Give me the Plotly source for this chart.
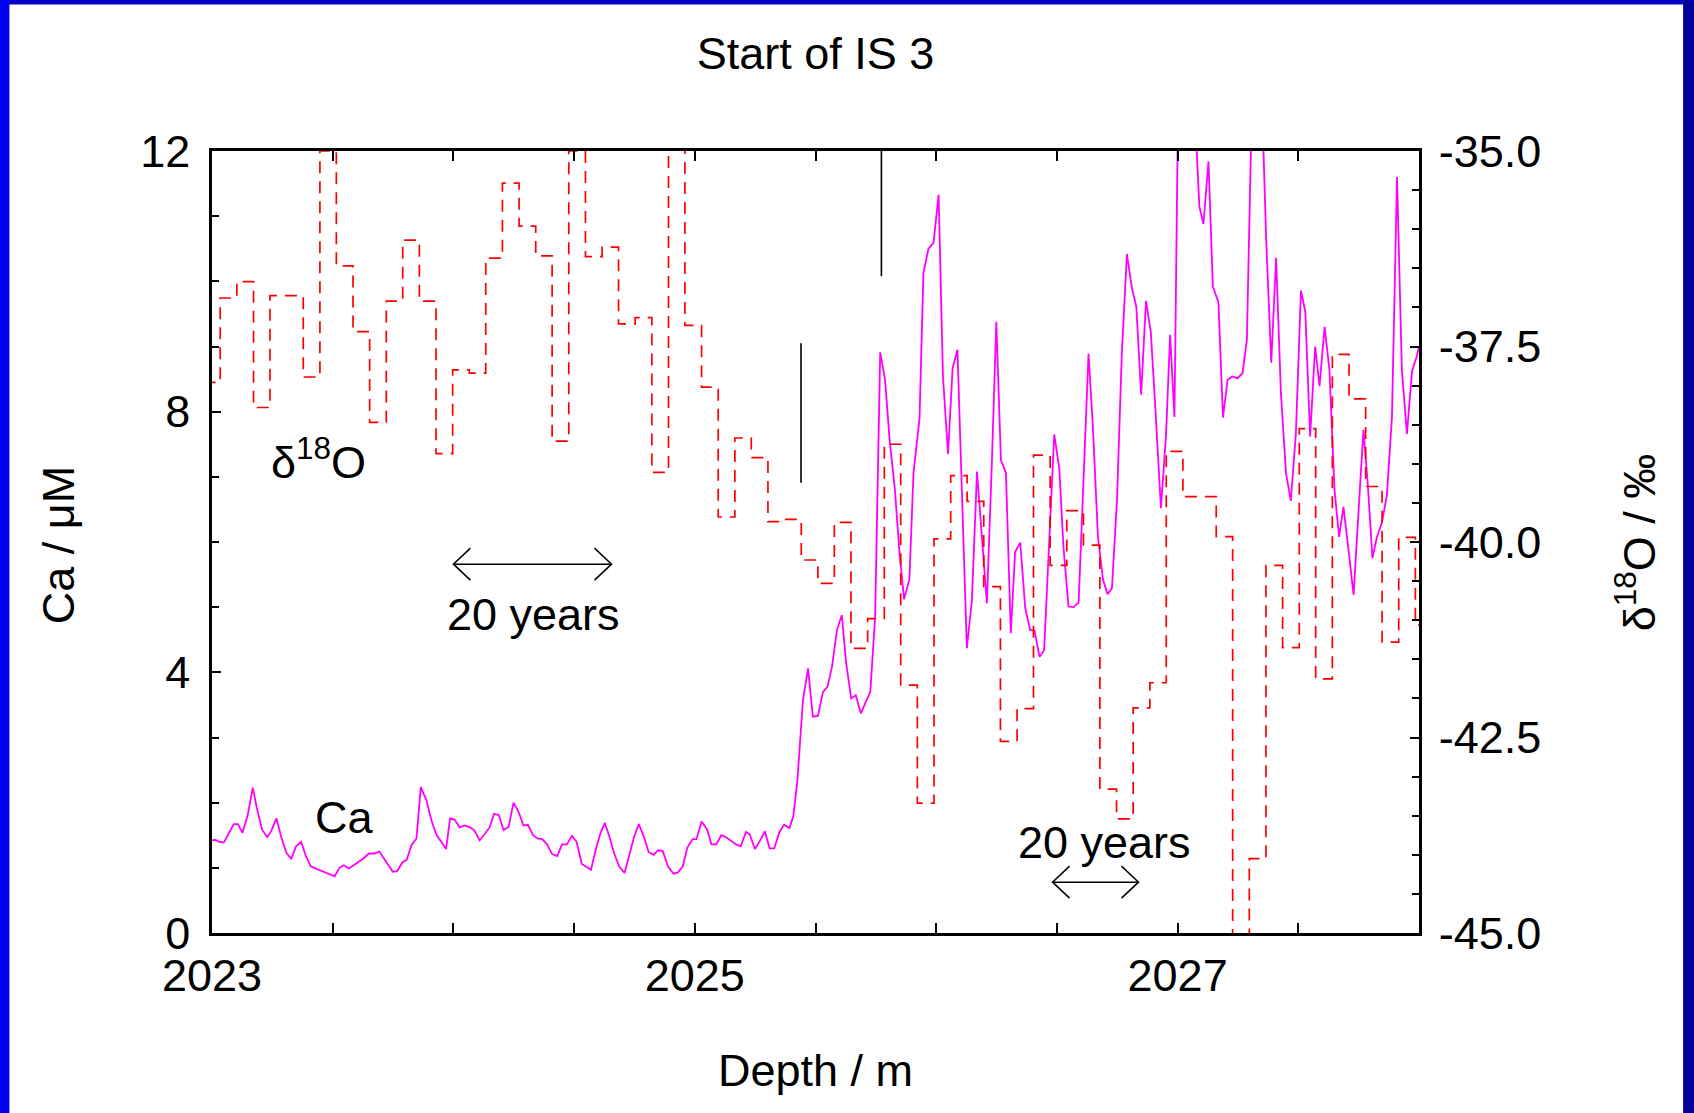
import plotly.graph_objects as go

# ---------------- data ----------------
ca_depth = [
    2023.000, 2023.013, 2023.030, 2023.049, 2023.090, 2023.107, 2023.126, 2023.147, 2023.169, 2023.185,
    2023.207, 2023.229, 2023.246, 2023.267, 2023.287, 2023.308, 2023.328, 2023.348, 2023.369, 2023.389,
    2023.410, 2023.508, 2023.528, 2023.546, 2023.567, 2023.606, 2023.626, 2023.650, 2023.672, 2023.693,
    2023.729, 2023.749, 2023.767, 2023.790, 2023.806, 2023.827, 2023.847, 2023.865, 2023.888, 2023.909,
    2023.929, 2023.950, 2023.970, 2023.986, 2024.005, 2024.026, 2024.045, 2024.065, 2024.086, 2024.109,
    2024.131, 2024.150, 2024.168, 2024.188, 2024.208, 2024.229, 2024.249, 2024.270, 2024.290, 2024.309,
    2024.330, 2024.348, 2024.368, 2024.388, 2024.409, 2024.430, 2024.450, 2024.470, 2024.491, 2024.510,
    2024.532, 2024.570, 2024.589, 2024.609, 2024.627, 2024.646, 2024.666, 2024.687, 2024.709, 2024.728,
    2024.748, 2024.768, 2024.789, 2024.809, 2024.830, 2024.848, 2024.867, 2024.889, 2024.912, 2024.930,
    2024.950, 2024.969, 2024.991, 2025.007, 2025.028, 2025.051, 2025.069, 2025.089, 2025.110, 2025.130,
    2025.150, 2025.171, 2025.190, 2025.212, 2025.228, 2025.249, 2025.269, 2025.290, 2025.310, 2025.329,
    2025.351, 2025.370, 2025.392, 2025.408, 2025.425, 2025.448, 2025.469, 2025.489, 2025.510, 2025.531,
    2025.550, 2025.568, 2025.589, 2025.609, 2025.627, 2025.648, 2025.667, 2025.688, 2025.709, 2025.727,
    2025.747, 2025.768, 2025.788, 2025.807, 2025.829, 2025.848, 2025.867, 2025.889, 2025.906, 2025.931,
    2025.947, 2025.968, 2025.989, 2026.010, 2026.028, 2026.049, 2026.068, 2026.088, 2026.127, 2026.148,
    2026.169, 2026.189, 2026.210, 2026.231, 2026.249, 2026.268, 2026.289, 2026.309, 2026.327, 2026.348,
    2026.369, 2026.389, 2026.407, 2026.428, 2026.447, 2026.489, 2026.510, 2026.527, 2026.548, 2026.569,
    2026.590, 2026.631, 2026.649, 2026.670, 2026.691, 2026.710, 2026.728, 2026.749, 2026.769, 2026.790,
    2026.811, 2026.829, 2026.849, 2026.869, 2026.889, 2026.910, 2026.931, 2026.952, 2026.969, 2026.987,
    2027.007, 2027.027, 2027.048, 2027.069, 2027.090, 2027.107, 2027.128, 2027.146, 2027.169, 2027.188,
    2027.207, 2027.227, 2027.248, 2027.269, 2027.287, 2027.307, 2027.328, 2027.346, 2027.367, 2027.388,
    2027.408, 2027.428, 2027.449, 2027.469, 2027.490, 2027.511, 2027.529, 2027.549, 2027.570, 2027.588,
    2027.609, 2027.629, 2027.650, 2027.669, 2027.687, 2027.708, 2027.729, 2027.749, 2027.770, 2027.788,
    2027.807, 2027.826, 2027.846, 2027.867, 2027.888, 2027.909, 2027.929, 2027.950, 2027.971, 2027.991,
    2028.000,
]
ca_value = [
    1.42, 1.43, 1.40, 1.39, 1.67, 1.67, 1.54, 1.79, 2.23, 1.93,
    1.59, 1.47, 1.57, 1.76, 1.47, 1.23, 1.14, 1.33, 1.40, 1.18,
    1.02, 0.87, 1.00, 1.04, 0.99, 1.09, 1.14, 1.22, 1.22, 1.25,
    1.05, 0.94, 0.95, 1.09, 1.12, 1.35, 1.45, 2.24, 2.04, 1.73,
    1.51, 1.40, 1.29, 1.76, 1.74, 1.62, 1.65, 1.63, 1.58, 1.42,
    1.52, 1.62, 1.83, 1.81, 1.58, 1.63, 2.00, 1.86, 1.65, 1.66,
    1.50, 1.45, 1.44, 1.36, 1.21, 1.18, 1.36, 1.36, 1.49, 1.40,
    1.06, 0.97, 1.27, 1.53, 1.69, 1.48, 1.22, 1.02, 0.92, 1.20,
    1.47, 1.67, 1.48, 1.24, 1.20, 1.27, 1.26, 1.02, 0.91, 0.93,
    1.02, 1.31, 1.44, 1.44, 1.71, 1.59, 1.36, 1.36, 1.50, 1.47,
    1.41, 1.36, 1.33, 1.55, 1.51, 1.29, 1.41, 1.56, 1.30, 1.30,
    1.55, 1.66, 1.61, 1.79, 2.34, 3.57, 4.06, 3.32, 3.33, 3.70,
    3.78, 4.08, 4.65, 4.88, 4.14, 3.60, 3.65, 3.37, 3.55, 3.70,
    4.85, 8.91, 8.49, 7.57, 6.80, 5.83, 5.12, 5.43, 7.06, 7.90,
    10.13, 10.50, 10.59, 11.33, 8.54, 7.35, 8.67, 8.95, 4.37, 5.11,
    7.08, 6.10, 5.06, 7.26, 9.38, 7.26, 7.06, 4.60, 5.85, 5.99,
    4.98, 4.65, 4.64, 4.24, 4.34, 7.65, 7.13, 5.93, 5.01, 5.00,
    5.07, 8.89, 7.77, 6.08, 5.42, 5.20, 5.29, 6.65, 8.90, 10.42,
    9.89, 9.61, 8.26, 9.70, 9.22, 7.92, 6.52, 7.64, 9.18, 7.92,
    14.3, 13.8, 13.2, 12.8, 11.15, 10.88, 11.84, 9.92, 9.68, 7.91,
    8.49, 8.54, 8.51, 8.59, 9.11, 12.6, 13.5, 13.2, 10.64, 8.75,
    10.36, 8.28, 7.06, 6.63, 7.67, 9.86, 9.53, 7.62, 9.00, 8.39,
    9.30, 8.64, 6.80, 6.08, 6.54, 5.88, 5.19, 6.44, 7.72, 6.88,
    5.75, 6.08, 6.29, 6.72, 7.92, 11.60, 8.64, 7.66, 8.62, 8.85,
    9.00,
]

# d18O: start depth of each sample step, and value (permil)
d18o_depth = [
    2022.965, 2023.034, 2023.103, 2023.172, 2023.240, 2023.309, 2023.378, 2023.447, 2023.515, 2023.584,
    2023.653, 2023.722, 2023.790, 2023.859, 2023.928, 2023.997, 2024.066, 2024.134, 2024.203, 2024.272,
    2024.341, 2024.409, 2024.478, 2024.547, 2024.616, 2024.684, 2024.753, 2024.822, 2024.891, 2024.959,
    2025.028, 2025.097, 2025.166, 2025.234, 2025.303, 2025.372, 2025.441, 2025.510, 2025.578, 2025.647,
    2025.716, 2025.785, 2025.853, 2025.922, 2025.991, 2026.060, 2026.128, 2026.197, 2026.266, 2026.335,
    2026.403, 2026.472, 2026.541, 2026.610, 2026.678, 2026.747, 2026.816, 2026.885, 2026.953, 2027.022,
    2027.091, 2027.160, 2027.228, 2027.297, 2027.366, 2027.435, 2027.504, 2027.572, 2027.641, 2027.710,
    2027.779, 2027.847, 2027.916, 2027.985, 2028.000,
]
d18o_value = [
    -37.96, -36.88, -36.67, -38.28, -36.85, -36.85, -37.89, -35.00, -36.47, -37.31,
    -38.47, -36.92, -36.14, -36.92, -38.87, -37.80, -37.84, -36.37, -35.41, -35.96,
    -36.34, -38.71, -35.00, -36.35, -36.23, -37.21, -37.13, -39.11, -34.90, -37.23,
    -38.02, -39.68, -38.67, -38.92, -39.74, -39.71, -40.23, -40.53, -39.75, -41.36,
    -40.98, -38.75, -41.83, -43.34, -39.96, -39.15, -39.48, -40.57, -42.55, -42.13,
    -38.89, -40.30, -39.60, -40.04, -43.16, -43.54, -42.12, -41.80, -38.84, -39.42,
    -39.42, -39.93, -45.30, -44.05, -40.30, -41.35, -38.55, -41.75, -37.60, -38.17,
    -39.29, -41.28, -39.94, -41.06, -41.06,
]

# vertical black marker lines (depth, Ca from, Ca to)
marker_depth = [2025.440, 2025.773]
marker_ca_lo = [6.91, 10.08]
marker_ca_hi = [9.05, 12.0]

# "20 years" arrows (depth start, depth end, Ca level) and their label positions
arrow_start = [2024.000, 2026.482]
arrow_end = [2024.655, 2026.838]
arrow_ca = [5.66, 0.78]
arrow_label_depth = [2024.331, 2026.696]
arrow_label_ca = [4.88, 1.385]

x_tickvals = [2023, 2025, 2027]
x_ticktext = ["2023", "2025", "2027"]
y_tickvals = [0, 4, 8, 12]
y_ticktext = ["0", "4", "8", "12"]
y2_tickvals = [-45.0, -42.5, -40.0, -37.5, -35.0]
y2_ticktext = ["-45.0", "-42.5", "-40.0", "-37.5", "-35.0"]

FONT = "Liberation Sans, Arial, Helvetica, sans-serif"
FS = 45

fig = go.Figure()

fig.add_trace(go.Scatter(
    x=ca_depth, y=ca_value, mode="lines", yaxis="y",
    line=dict(color="#FF00FF", width=1.8), showlegend=False, hoverinfo="skip"))

fig.add_trace(go.Scatter(
    x=d18o_depth, y=d18o_value, mode="lines", yaxis="y2",
    line=dict(color="#FF0000", width=1.7, dash="12px,8px", shape="hv"),
    showlegend=False, hoverinfo="skip"))

shapes = []
# background: blue frame with white slide interior
shapes.append(dict(type="rect", xref="paper", yref="paper", x0=-0.168, x1=1.219, y0=-0.3, y1=1.1873,
                   fillcolor="white", line=dict(width=0), layer="below"))
shapes.append(dict(type="rect", xref="paper", yref="paper", x0=1.219, x1=1.3, y0=-0.3, y1=1.3,
                   fillcolor="#00009A", line=dict(width=0), layer="below"))
shapes.append(dict(type="rect", xref="paper", yref="paper", x0=-0.2, x1=-0.168, y0=-0.3, y1=1.3,
                   fillcolor="#0000F0", line=dict(width=0), layer="below"))

for d, lo, hi in zip(marker_depth, marker_ca_lo, marker_ca_hi):
    shapes.append(dict(type="line", xref="x", yref="y", x0=d, x1=d, y0=lo, y1=hi,
                       line=dict(color="black", width=1.6)))

for a0, a1, ay in zip(arrow_start, arrow_end, arrow_ca):
    shapes.append(dict(type="line", xref="x", yref="y", x0=a0, x1=a1, y0=ay, y1=ay,
                       line=dict(color="black", width=1.5)))
    shapes.append(dict(type="path", xref="x", yref="y", xsizemode="pixel", ysizemode="pixel",
                       xanchor=a0, yanchor=ay, path="M 17,16 L 0,0 L 17,-16",
                       line=dict(color="black", width=1.5)))
    shapes.append(dict(type="path", xref="x", yref="y", xsizemode="pixel", ysizemode="pixel",
                       xanchor=a1, yanchor=ay, path="M -17,16 L 0,0 L -17,-16",
                       line=dict(color="black", width=1.5)))

annotations = []
for lx, ly in zip(arrow_label_depth, arrow_label_ca):
    annotations.append(dict(x=lx, y=ly, xref="x", yref="y", text="20 years", showarrow=False,
                            font=dict(family=FONT, size=FS, color="black"),
                            xanchor="center", yanchor="middle"))
annotations.append(dict(x=2023.44, y=7.28, xref="x", yref="y", text="δ<sup>18</sup>O", showarrow=False,
                        font=dict(family=FONT, size=FS, color="black"), xanchor="center", yanchor="middle"))
annotations.append(dict(x=2023.548, y=1.77, xref="x", yref="y", text="Ca", showarrow=False,
                        font=dict(family=FONT, size=FS, color="black"), xanchor="center", yanchor="middle"))
# axis titles
annotations.append(dict(x=0.5, y=-0.176, xref="paper", yref="paper", text="Depth / m", showarrow=False,
                        font=dict(family=FONT, size=FS, color="black"), xanchor="center", yanchor="middle"))
annotations.append(dict(x=-0.1275, y=0.496, xref="paper", yref="paper", text="Ca / μM", showarrow=False,
                        textangle=-90, font=dict(family=FONT, size=FS, color="black"),
                        xanchor="center", yanchor="middle"))
annotations.append(dict(x=1.1800, y=0.500, xref="paper", yref="paper", text="δ<sup>18</sup>O / ‰",
                        showarrow=False, textangle=-90, font=dict(family=FONT, size=FS, color="black"),
                        xanchor="center", yanchor="middle"))

axis_common = dict(showline=True, linecolor="black", linewidth=2.5, showgrid=False, zeroline=False,
                   ticks="inside", tickcolor="black", tickwidth=1.5,
                   tickfont=dict(family=FONT, size=FS, color="black"))

fig.update_layout(
    width=1694, height=1113,
    margin=dict(l=212, r=275, t=151, b=180),
    paper_bgcolor="#0000C8", plot_bgcolor="white",
    title=dict(text="Start of IS 3", x=0.5, xref="paper", xanchor="center",
               y=1 - 53 / 1113, yref="container", yanchor="middle",
               font=dict(family=FONT, size=FS, color="black")),
    xaxis=dict(range=[2023, 2028], tickvals=x_tickvals, ticktext=x_ticktext, ticklen=10,
               mirror="allticks", ticklabelstandoff=1,
               minor=dict(dtick=0.5, tick0=2023, ticklen=6, ticks="inside", tickcolor="black", tickwidth=1.5),
               **axis_common),
    yaxis=dict(range=[0, 12], tickvals=y_tickvals, ticktext=y_ticktext, ticklen=9,
               ticklabelstandoff=10,
               minor=dict(dtick=1, tick0=0, ticklen=7, ticks="inside", tickcolor="black", tickwidth=1.5),
               **axis_common),
    yaxis2=dict(range=[-45, -35], overlaying="y", side="right", tickvals=y2_tickvals,
                ticktext=y2_ticktext, ticklen=9, ticklabelstandoff=8,
                minor=dict(dtick=0.5, tick0=-45, ticklen=7, ticks="inside", tickcolor="black", tickwidth=1.5),
                **axis_common),
    shapes=shapes,
    annotations=annotations,
    showlegend=False,
)

fig.write_html("out.html", config={"displayModeBar": False},
               post_script="document.body.style.margin='0px';document.body.style.overflow='hidden';")
